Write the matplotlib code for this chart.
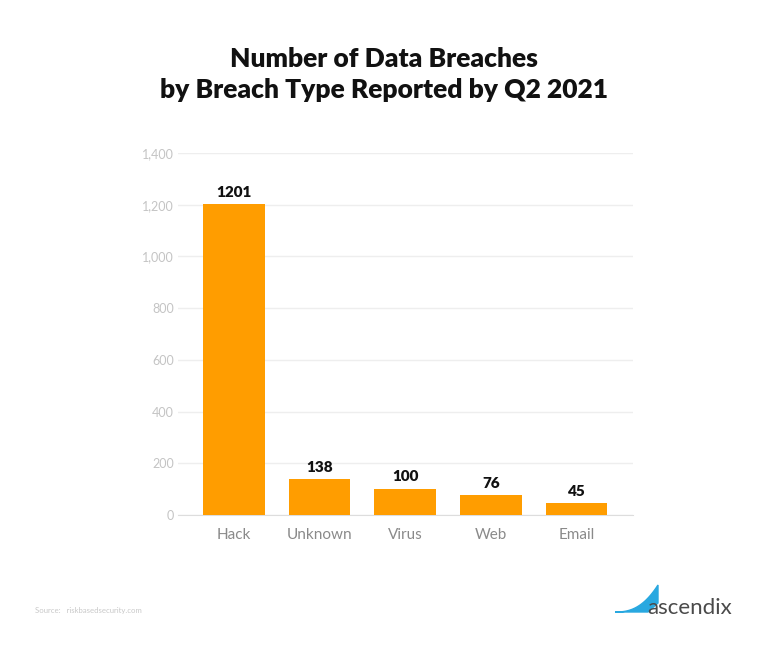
import numpy as np
import matplotlib.pyplot as plt
from matplotlib.patches import Polygon

# data
categories = ['Hack', 'Unknown', 'Virus', 'Web', 'Email']
breaches = [1201, 138, 100, 76, 45]
yticks = [0, 200, 400, 600, 800, 1000, 1200, 1400]

plt.rcParams['font.family'] = ['Lato', 'DejaVu Sans']

fig = plt.figure(figsize=(7.68, 6.54), dpi=100)
ax = fig.add_axes([0.2318, 0.2125, 0.5924, 0.5535])

x = np.arange(len(categories))
ax.bar(x, breaches, width=0.72, color='#FF9D00', zorder=3)

for xi, v in zip(x, breaches):
    ax.text(xi, v + 22, str(v), ha='center', va='bottom',
            fontsize=11, fontweight='heavy', color='#111111')

ax.set_xlim(-0.65, 4.66)
ax.set_ylim(0, 1400)
ax.set_yticks(yticks)
ax.set_yticklabels(['{:,}'.format(t) for t in yticks])
ax.set_xticks(x)
ax.set_xticklabels(categories)
ax.tick_params(axis='y', length=0, pad=3, labelsize=9, labelcolor='#c4c4c4')
ax.tick_params(axis='x', length=0, pad=9, labelsize=11, labelcolor='#8a8a8a')

ax.grid(axis='y', color='#eeeeee', linewidth=1, zorder=0)
for s in ['top', 'right', 'left']:
    ax.spines[s].set_visible(False)
ax.spines['bottom'].set_color('#dddddd')

fig.text(0.5, 0.886, 'Number of Data Breaches\nby Breach Type Reported by Q2 2021',
         ha='center', va='center', fontsize=19, fontweight='heavy',
         color='#111111', linespacing=1.35)

fig.text(0.046, 0.067, 'Source:   riskbasedsecurity.com', fontsize=5.6,
         color='#c8c8c8', ha='left', va='center')

# logo: curved blue fin plus word mark
t = np.linspace(0, 1, 30)
cx = 615 + 43 * t
cy = 612 - 27 * t ** 2.5
pts = [[px / 768, 1 - py / 654] for px, py in zip(cx, cy)]
pts += [[658 / 768, 1 - 603 / 654], [648 / 768, 1 - 612 / 654]]
fin = Polygon(pts, closed=True, transform=fig.transFigure, color='#29A8E0')
fig.patches.append(fin)
fig.text(0.843, 0.071, 'ascendix', fontsize=16, color='#4a4a4a',
         ha='left', va='center')

fig.savefig('out.png', dpi=100)
